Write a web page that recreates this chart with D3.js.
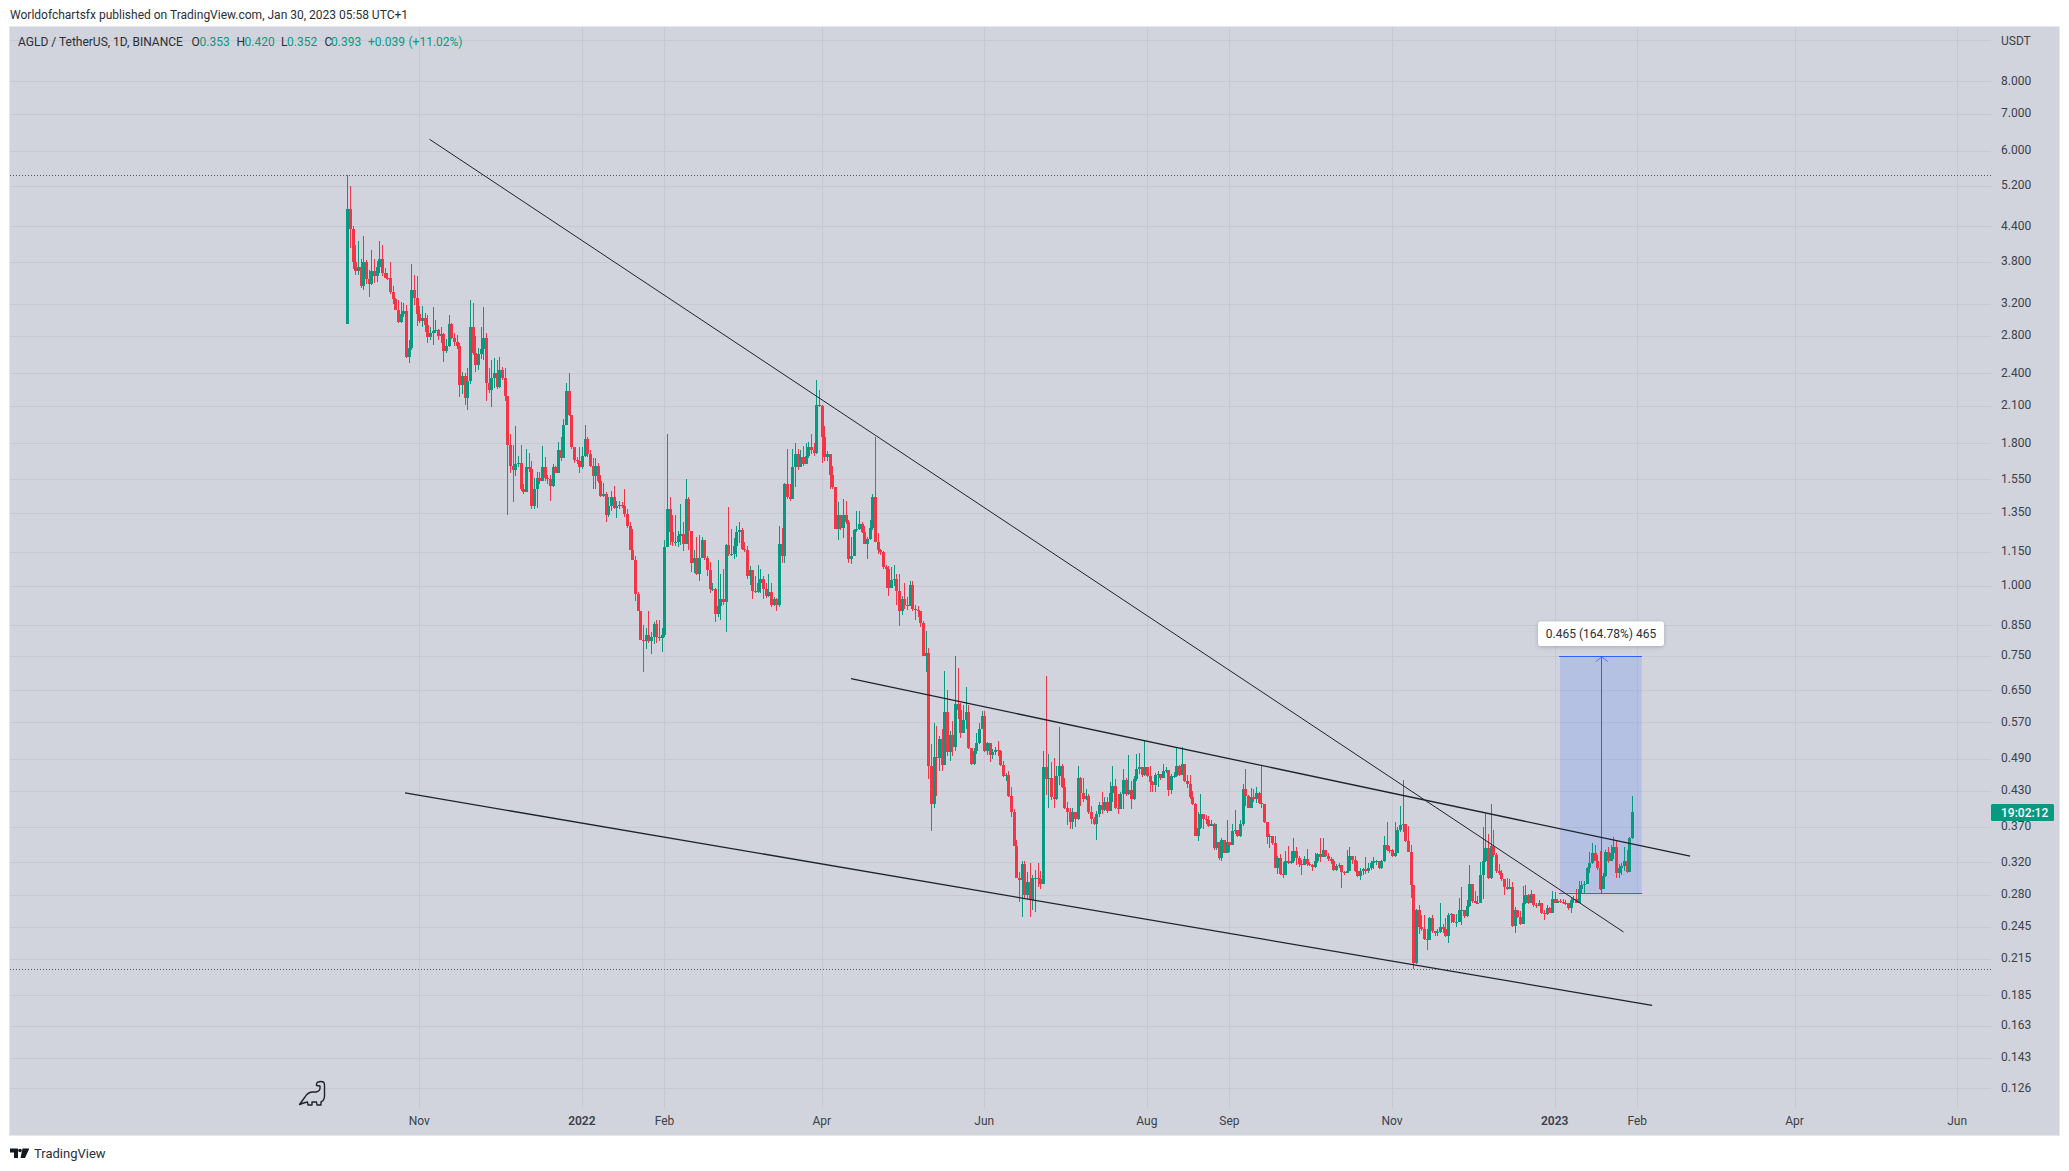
<!DOCTYPE html>
<html><head><meta charset="utf-8">
<script src="https://cdn.jsdelivr.net/npm/d3@7/dist/d3.min.js"></script>
<style>html,body{margin:0;padding:0;background:#fff}svg{display:block}text{font-family:Roboto,"Open Sans",sans-serif}</style>
</head><body><svg id="c" width="2069" height="1171"></svg>
<script>
const firstDay = "2021-10-05";
const firstOpen = 2.94;
const closes = [
4.72,4.35,3.80,3.66,3.72,3.44,3.80,3.54,3.47,3.66,
3.58,3.72,3.85,3.63,3.56,3.55,3.35,3.26,3.12,2.97,
3.07,3.11,2.57,2.66,3.39,3.28,3.06,2.98,3.02,2.93,
2.79,2.84,2.86,2.87,2.80,2.82,2.63,2.69,2.94,2.78,
2.73,2.69,2.29,2.37,2.17,2.33,2.91,2.61,2.48,2.60,
2.65,2.78,2.31,2.24,2.35,2.40,2.27,2.43,2.35,2.19,
1.79,1.64,1.61,1.65,1.66,1.49,1.47,1.63,1.62,1.39,
1.49,1.56,1.54,1.63,1.56,1.55,1.51,1.63,1.59,1.75,
1.69,1.94,2.23,2.02,1.77,1.68,1.67,1.63,1.71,1.83,
1.72,1.64,1.57,1.64,1.54,1.45,1.46,1.34,1.39,1.44,
1.38,1.39,1.395,1.39,1.345,1.28,1.16,1.11,.965,.90,
.80,.795,.815,.795,.81,.855,.81,.805,.815,1.175,
1.37,1.25,1.20,1.20,1.23,1.24,1.19,1.43,1.255,1.10,
1.12,1.05,1.12,1.21,1.12,1.065,.985,.985,.89,.92,
.945,.935,1.185,1.14,1.14,1.18,1.25,1.26,1.165,1.16,
1.04,1.065,.98,.975,1.01,1.03,.985,.96,.975,.925,
.945,.925,1.19,1.13,1.52,1.44,1.43,1.63,1.72,1.63,
1.70,1.65,1.71,1.77,1.75,1.725,2.11,2.10,1.85,1.70,
1.72,1.58,1.50,1.265,1.34,1.27,1.34,1.30,1.115,1.13,
1.26,1.265,1.29,1.25,1.19,1.215,1.27,1.44,1.20,1.16,
1.15,1.08,1.07,.99,1.025,1.03,.98,.90,.945,.925,
.92,1.005,.91,.905,.90,.858,.748,.758,.476,.406,
.493,.492,.531,.477,.594,.504,.54,.515,.613,.60,
.546,.575,.595,.513,.48,.506,.522,.555,.585,.507,
.523,.497,.504,.508,.506,.477,.457,.458,.42,.393,
.342,.30,.297,.318,.279,.295,.274,.30,.30,.298,
.293,.473,.45,.453,.418,.416,.456,.476,.436,.40,
.394,.378,.393,.382,.452,.426,.416,.42,.394,.382,
.374,.391,.405,.397,.41,.395,.426,.438,.40,.399,
.424,.449,.424,.431,.416,.451,.47,.473,.458,.473,
.456,.445,.439,.459,.46,.452,.466,.467,.431,.456,
.457,.476,.459,.48,.448,.442,.418,.407,.357,.369,
.39,.382,.38,.371,.375,.339,.348,.325,.351,.333,
.348,.344,.364,.365,.356,.375,.432,.42,.40,.418,
.415,.425,.408,.407,.378,.355,.357,.346,.313,.325,
.305,.304,.322,.319,.321,.335,.325,.317,.316,.324,
.317,.316,.314,.321,.331,.327,.337,.328,.324,.322,
.31,.315,.316,.307,.306,.309,.328,.323,.309,.302,
.308,.311,.308,.313,.319,.321,.321,.312,.321,.343,
.337,.336,.328,.333,.365,.373,.374,.349,.334,.291,
.211,.263,.245,.243,.233,.232,.254,.241,.239,.24,
.245,.243,.236,.257,.258,.25,.25,.263,.263,.256,
.267,.292,.273,.271,.271,.303,.322,.339,.30,.342,
.329,.308,.306,.298,.289,.287,.289,.246,.263,.255,
.248,.27,.28,.27,.281,.268,.267,.271,.26,.258,
.265,.26,.275,.271,.273,.272,.27,.27,.265,.274,
.275,.271,.287,.291,.293,.312,.319,.332,.322,.312,
.287,.302,.334,.321,.332,.34,.306,.312,.315,.321,
.307,.353,.393];
const highs = [
5.43,5.20,4.40,4.07,4.14,3.85,4.23,3.83,3.67,3.99,
3.85,3.82,4.14,4.07,3.70,3.63,3.80,3.44,3.28,3.25,
3.22,3.21,3.18,2.75,3.77,3.60,3.59,3.17,3.17,3.08,
3.05,2.90,3.15,2.99,2.88,2.90,2.83,2.76,3.05,2.96,
2.83,2.81,2.72,2.41,2.40,2.45,3.25,3.21,2.80,2.66,
2.91,3.15,2.83,2.45,2.54,2.56,2.54,2.57,2.46,2.45,
2.19,1.87,1.79,1.93,1.71,1.79,1.52,1.76,1.73,1.67,
1.56,1.60,1.60,1.78,1.70,1.58,1.58,1.65,1.64,1.81,
1.85,1.99,2.31,2.40,2.02,1.77,1.70,1.77,1.77,1.94,
1.85,1.75,1.69,1.69,1.66,1.58,1.53,1.47,1.44,1.48,
1.51,1.42,1.42,1.41,1.49,1.37,1.30,1.265,1.13,.975,
.90,.85,.84,.90,.825,.86,.87,.87,.84,1.21,
1.87,1.44,1.34,1.34,1.255,1.40,1.30,1.55,1.44,1.25,
1.16,1.225,1.235,1.225,1.21,1.13,1.105,1.01,.99,1.11,
1.05,1.07,1.19,1.385,1.265,1.22,1.28,1.30,1.27,1.20,
1.18,1.085,1.065,1.04,1.09,1.07,1.04,1.01,1.05,1.01,
.955,.95,1.28,1.27,1.53,1.76,1.52,1.76,1.80,1.76,
1.75,1.78,1.80,1.81,1.87,1.80,2.34,2.24,2.11,1.93,
1.74,1.72,1.64,1.50,1.41,1.34,1.43,1.42,1.31,1.225,
1.265,1.36,1.36,1.30,1.28,1.225,1.31,1.46,1.85,1.245,
1.165,1.155,1.09,1.085,1.08,1.09,1.05,1.05,.96,1.01,
.955,1.02,1.02,.925,.92,.90,.865,.83,.775,.52,
.568,.56,.538,.555,.704,.65,.55,.572,.748,.713,
.617,.612,.66,.612,.513,.513,.545,.568,.598,.598,
.525,.522,.51,.515,.528,.508,.486,.463,.466,.436,
.398,.35,.307,.321,.322,.307,.319,.303,.31,.319,
.308,.507,.69,.50,.483,.492,.475,.558,.48,.453,
.41,.40,.40,.394,.476,.455,.453,.433,.423,.404,
.386,.395,.41,.428,.418,.418,.446,.476,.45,.424,
.427,.47,.452,.498,.447,.456,.50,.502,.473,.528,
.471,.475,.447,.462,.466,.46,.48,.474,.466,.461,
.464,.512,.478,.514,.48,.459,.459,.43,.408,.394,
.424,.39,.388,.387,.38,.376,.375,.348,.353,.351,
.38,.348,.375,.397,.365,.38,.442,.469,.422,.434,
.432,.436,.427,.477,.401,.378,.36,.356,.356,.328,
.331,.32,.335,.342,.335,.354,.34,.328,.323,.328,
.338,.32,.317,.333,.333,.354,.354,.337,.333,.327,
.324,.317,.319,.315,.309,.337,.34,.328,.328,.321,
.312,.313,.327,.319,.321,.327,.323,.321,.323,.356,
.377,.342,.338,.377,.37,.403,.449,.37,.371,.343,
.291,.264,.268,.257,.257,.243,.255,.257,.241,.243,
.27,.248,.254,.259,.26,.258,.258,.276,.289,.263,
.274,.316,.292,.284,.278,.32,.37,.39,.36,.407,
.365,.332,.317,.31,.298,.30,.298,.295,.266,.263,
.262,.29,.291,.281,.285,.281,.271,.274,.271,.263,
.268,.266,.284,.283,.275,.275,.275,.274,.271,.276,
.278,.286,.296,.296,.296,.314,.334,.346,.344,.33,
.335,.306,.337,.341,.344,.355,.35,.317,.319,.341,
.337,.355,.42];
const lows = [
2.94,4.02,3.69,3.60,3.60,3.41,3.38,3.47,3.29,3.46,
3.49,3.50,3.63,3.59,3.55,3.52,3.33,3.19,3.12,2.96,
2.95,3.03,2.56,2.50,2.64,3.18,2.92,2.95,2.91,2.85,
2.72,2.75,2.70,2.83,2.75,2.72,2.52,2.61,2.68,2.76,
2.69,2.65,2.18,2.20,2.11,2.06,2.30,2.59,2.41,2.43,
2.55,2.54,2.14,2.21,2.09,2.26,2.25,2.26,2.34,2.14,
1.34,1.59,1.41,1.57,1.63,1.48,1.46,1.48,1.60,1.37,
1.37,1.38,1.52,1.54,1.54,1.52,1.42,1.50,1.59,1.59,
1.67,1.69,1.94,2.01,1.76,1.66,1.65,1.59,1.62,1.70,
1.70,1.63,1.49,1.49,1.53,1.44,1.44,1.30,1.33,1.36,
1.37,1.32,1.37,1.38,1.33,1.27,1.16,1.11,.94,.90,
.80,.70,.77,.79,.755,.785,.79,.795,.76,.81,
1.175,1.185,1.18,1.18,1.175,1.185,1.155,1.19,1.16,1.06,
1.055,1.045,1.02,1.12,1.11,1.04,.97,.98,.86,.88,
.87,.925,.825,1.13,1.13,1.115,1.125,1.195,1.16,1.15,
1.03,1.005,.945,.97,.97,.97,.945,.95,.955,.915,
.92,.90,.915,1.10,1.10,1.43,1.42,1.44,1.50,1.61,
1.63,1.64,1.65,1.69,1.72,1.71,1.72,2.09,1.66,1.67,
1.67,1.49,1.49,1.265,1.21,1.26,1.22,1.29,1.10,1.095,
1.13,1.25,1.26,1.245,1.19,1.115,1.21,1.26,1.20,1.14,
1.135,1.07,.99,.96,.99,1.0,.925,.847,.885,.91,
.905,.92,.90,.87,.88,.845,.748,.70,.45,.364,
.40,.42,.466,.466,.477,.496,.486,.496,.507,.578,
.535,.545,.555,.51,.477,.477,.50,.52,.553,.505,
.498,.484,.49,.498,.496,.476,.455,.447,.418,.386,
.342,.30,.272,.255,.275,.275,.255,.263,.261,.289,
.287,.292,.422,.40,.414,.40,.414,.44,.435,.398,
.373,.367,.367,.37,.38,.404,.41,.414,.39,.374,
.373,.351,.385,.39,.395,.392,.397,.41,.398,.39,
.398,.398,.42,.422,.399,.414,.447,.46,.455,.457,
.455,.428,.428,.428,.437,.449,.452,.463,.421,.424,
.453,.455,.456,.459,.446,.434,.416,.405,.357,.349,
.367,.367,.375,.37,.371,.337,.337,.323,.321,.332,
.333,.334,.348,.36,.355,.355,.372,.404,.40,.403,
.41,.408,.407,.40,.376,.345,.339,.344,.312,.305,
.303,.30,.304,.317,.318,.319,.316,.314,.304,.316,
.315,.315,.309,.313,.319,.32,.327,.327,.322,.318,
.309,.309,.313,.288,.304,.306,.308,.318,.307,.301,
.297,.303,.305,.306,.31,.311,.316,.311,.311,.32,
.335,.332,.327,.327,.332,.363,.363,.348,.334,.276,
.206,.21,.238,.241,.232,.223,.232,.239,.236,.236,
.239,.239,.235,.229,.249,.249,.245,.25,.247,.254,
.255,.266,.271,.27,.27,.271,.275,.32,.298,.298,
.327,.306,.304,.296,.28,.285,.286,.245,.239,.254,
.247,.249,.269,.269,.27,.266,.265,.267,.258,.252,
.257,.259,.261,.27,.27,.27,.269,.268,.263,.26,
.27,.27,.271,.281,.281,.293,.306,.317,.321,.31,
.285,.288,.301,.319,.321,.324,.30,.30,.303,.308,
.306,.307,.352];

const priceTicks = ["8.000","7.000","6.000","5.200","4.400","3.800","3.200","2.800","2.400","2.100","1.800","1.550","1.350","1.150","1.000","0.850","0.750","0.650","0.570","0.490","0.430","0.370","0.320","0.280","0.245","0.215","0.185","0.163","0.143","0.126"];
const unlabelledGrid = [9.5];
const monthTicks = [["2021-11-01","Nov"],["2022-01-01","2022"],["2022-02-01","Feb"],["2022-04-01","Apr"],["2022-06-01","Jun"],["2022-08-01","Aug"],["2022-09-01","Sep"],["2022-11-01","Nov"],["2023-01-01","2023"],["2023-02-01","Feb"],["2023-04-01","Apr"],["2023-06-01","Jun"]];
const trendThin = [
  [["2021-11-04T20:00","6.30"],["2023-01-26T20:00","0.24"]]
];
const trendThick = [
  [["2022-04-12T00:00","0.682"],["2023-02-20T20:00","0.328"]],
  [["2021-10-26T16:00","0.4257"],["2023-02-06T14:00","0.1773"]]
];
const dottedLevels = [5.43, 0.206];
const measure = {startPrice:0.2822,endPrice:0.7472,from:"2023-01-03T00:00",to:"2023-02-02T16:00",mid:"2023-01-18T12:00"};

const W=2069,H=1171,L=10,R=1991,T=27,B=1108,PR=2059,PB=1135;
const green="#089981",red="#f23645",gridC="#c6c9d3",ink="#2a2e39";
const svg=d3.select("#c");
const utc=s=>new Date(s.length>10?s+":00Z":s+"T00:00:00Z");
const x=d3.scaleUtc().domain([utc("2021-10-05"),utc("2023-06-01")]).range([347.3,1957.1]);
const y=d3.scaleLog().domain([8,0.126]).range([81.3,1088.3]);

svg.append("rect").attr("x",L-1).attr("y",T-1).attr("width",PR-L+2).attr("height",PB-T+2).attr("fill","#e4e6ec");
svg.append("rect").attr("x",L).attr("y",T).attr("width",PR-L).attr("height",PB-T).attr("fill","#d1d4dc");

const grid=svg.append("g").attr("shape-rendering","crispEdges").attr("stroke",gridC).attr("stroke-width",1);
[...priceTicks.map(Number),...unlabelledGrid].forEach(p=>{const v=Math.round(y(p))+.5;grid.append("line").attr("x1",L).attr("x2",R).attr("y1",v).attr("y2",v);});
monthTicks.forEach(([d])=>{const v=Math.round(x(utc(d)))+.5;grid.append("line").attr("x1",v).attr("x2",v).attr("y1",T).attr("y2",B);});

dottedLevels.forEach(p=>{const v=Math.round(y(p))+.5;
 svg.append("line").attr("x1",L).attr("x2",R).attr("y1",v).attr("y2",v).attr("stroke","#555a66").attr("stroke-width",1).attr("stroke-dasharray","1 2").attr("shape-rendering","crispEdges");});

const mx0=x(utc(measure.from)),mx1=x(utc(measure.to)),my0=y(measure.endPrice),my1=y(measure.startPrice),mmx=x(utc(measure.mid));
svg.append("rect").attr("x",mx0).attr("y",my0).attr("width",mx1-mx0).attr("height",my1-my0).attr("fill","#2962ff").attr("fill-opacity",.17);

const candles=closes.map((c,i)=>({date:d3.utcDay.offset(utc(firstDay),i),o:i?closes[i-1]:firstOpen,h:highs[i],l:lows[i],c}));
const cg=svg.append("g").attr("shape-rendering","crispEdges");
cg.selectAll("rect.w").data(candles).join("rect").attr("class","w")
  .attr("x",d=>Math.round(x(d.date))).attr("width",1)
  .attr("y",d=>y(d.h)).attr("height",d=>Math.max(1,y(d.l)-y(d.h)))
  .attr("fill",d=>d.c>=d.o?green:red);
cg.selectAll("rect.b").data(candles).join("rect").attr("class","b")
  .attr("x",d=>Math.round(x(d.date))-1).attr("width",3)
  .attr("y",d=>y(Math.max(d.o,d.c))).attr("height",d=>Math.max(1,Math.abs(y(d.o)-y(d.c))))
  .attr("fill",d=>d.c>=d.o?green:red);

const blue="#2962ff";
[my0,my1].forEach(v=>svg.append("line").attr("x1",mx0-1).attr("x2",mx1).attr("y1",Math.round(v)+.5).attr("y2",Math.round(v)+.5).attr("stroke",blue).attr("stroke-width",1).attr("shape-rendering","crispEdges"));
svg.append("line").attr("x1",Math.round(mmx)+.5).attr("x2",Math.round(mmx)+.5).attr("y1",my0).attr("y2",my1).attr("stroke",blue).attr("stroke-width",1).attr("shape-rendering","crispEdges");
svg.append("path").attr("d",`M${mmx-5.5},${my0+5}L${mmx+.5},${my0+.5}L${mmx+6.5},${my0+5}`).attr("fill","none").attr("stroke",blue).attr("stroke-opacity",.75).attr("stroke-width",1);

const seg=(a,b)=>[[x(utc(a[0])),y(+a[1])],[x(utc(b[0])),y(+b[1])]];
trendThin.forEach(([a,b])=>{svg.append("path").attr("d",d3.line()(seg(a,b))).attr("stroke","#1e222d").attr("stroke-width",1).attr("fill","none");});
trendThick.forEach(([a,b])=>{svg.append("path").attr("d",d3.line()(seg(a,b))).attr("stroke","#1e222d").attr("stroke-width",1.3).attr("fill","none");});

const defs=svg.append("defs");
const f=defs.append("filter").attr("id","sh").attr("x","-20%").attr("y","-30%").attr("width","140%").attr("height","170%");
f.append("feDropShadow").attr("dx",0).attr("dy",1).attr("stdDeviation",2).attr("flood-color","#000").attr("flood-opacity",.2);
svg.append("rect").attr("x",1538).attr("y",621.5).attr("width",126).attr("height",24.5).attr("rx",3).attr("fill","#fff").attr("filter","url(#sh)");
svg.append("text").attr("x",1601).attr("y",637.5).attr("text-anchor","middle").attr("font-size",12).attr("fill","#2a2e39").text("0.465 (164.78%) 465");

const al=svg.append("g").attr("font-size",12).attr("fill","#3c4049");
priceTicks.forEach(t=>al.append("text").attr("x",2001).attr("y",y(+t)+3.4).text(t));
al.append("text").attr("x",2001).attr("y",45.3).text("USDT");

svg.append("rect").attr("x",1991).attr("y",804).attr("width",63).attr("height",17).attr("rx",1.5).attr("fill",green);
svg.append("text").attr("x",2001).attr("y",817).attr("font-size",12).attr("font-weight",500).attr("fill","#fff").text("19:02:12");

const tl=svg.append("g").attr("font-size",12).attr("fill","#3c4049").attr("text-anchor","middle");
monthTicks.forEach(([d,t])=>tl.append("text").attr("x",x(utc(d))).attr("y",1125).attr("font-weight",/^\d/.test(t)?600:400).text(t));

svg.append("text").attr("x",10).attr("y",19).attr("font-size",12).attr("fill","#2a2e39").text("Worldofchartsfx published on TradingView.com, Jan 30, 2023 05:58 UTC+1");
const lg=svg.append("g").attr("font-size",12);
[["AGLD / TetherUS, 1D, BINANCE",18,ink],["O",191.5,ink],["0.353",199.5,green],["H",236.6,ink],["0.420",244.6,green],["L",281,ink],["0.352",287,green],["C",324.5,ink],["0.393",331,green],["+0.039",368,green],["(+11.02%)",408.5,green]]
 .forEach(([t,px,col])=>lg.append("text").attr("x",px).attr("y",46).attr("fill",col).text(t));

svg.append("path").attr("d","M299.5,1104.5 L305,1097 C307,1093.5 310,1092 313,1092 L316,1092 C318.5,1091.5 320,1090 320,1088 L320,1086 L316.5,1085.5 L316.5,1084 C317,1082 319,1081.5 321,1081.5 C323.5,1081.5 324.5,1083 324.5,1085 L324.5,1096 C324.5,1099 323,1101 321,1102 L321,1105 L317,1105 L316.5,1102 L312,1102 L312,1105 L308,1105 L307.5,1102 L303.5,1103 Z")
 .attr("fill","none").attr("stroke","#1e222d").attr("stroke-width",1.4).attr("stroke-linejoin","round");

svg.append("path").attr("d","M10,1148.5 H18 V1158 H14 V1152.5 H10 Z M22.5,1148.5 H29.3 L25,1158 H20.5 Z").attr("fill","#131722");
svg.append("circle").attr("cx",20).attr("cy",1150.5).attr("r",1.8).attr("fill","#131722");
svg.append("text").attr("x",34).attr("y",1157.5).attr("font-size",13).attr("fill","#2a2e39").text("TradingView");
</script></body></html>
